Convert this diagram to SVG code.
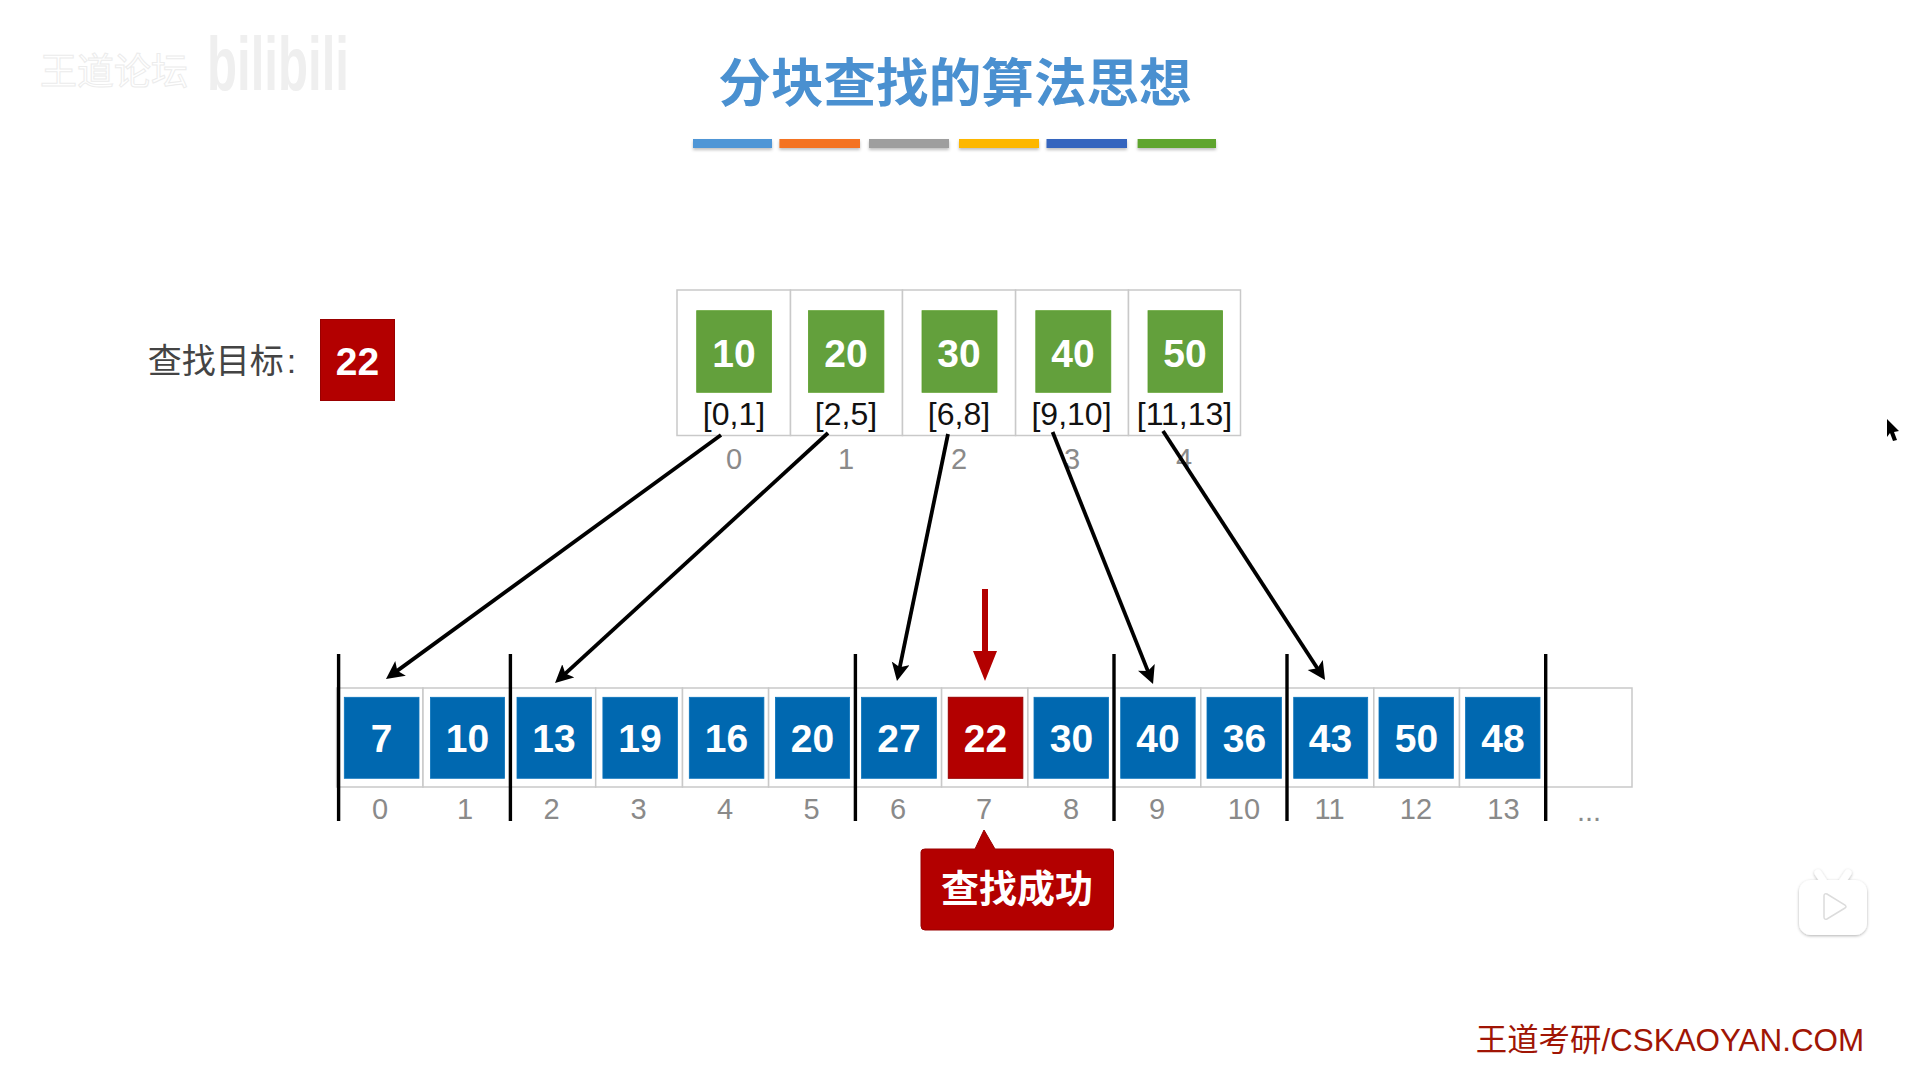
<svg xmlns="http://www.w3.org/2000/svg" width="1913" height="1069" viewBox="0 0 1913 1069">
<style>
text{font-family:"Liberation Sans","Noto Sans CJK SC",sans-serif;text-anchor:middle}
.cell{fill:#fff;stroke:#c9c9c9;stroke-width:1.5}
.g{fill:#63a03c;stroke:#5a9e28;stroke-width:.8}
.b{fill:#0068b0;stroke:#0a74bc;stroke-width:.8}
.r{fill:#b30000;stroke:#990000;stroke-width:1}
.n{fill:#fff;font-weight:700;font-size:39px}
.rg{fill:#111;font-size:32px}
.i{fill:#8a8a8a;font-size:29px}
.bar{stroke:#000;stroke-width:3.4}
.ar{stroke:#000;stroke-width:3.8;fill:none;marker-end:url(#ah)}
.stripe{filter:url(#sh)}
</style>
<defs>
<marker id="ah" markerUnits="userSpaceOnUse" markerWidth="20" markerHeight="20" refX="6" refY="9" orient="auto"><path d="M0,0L18,9L0,18L4,9Z" fill="#000"/></marker>
<marker id="rh" markerUnits="userSpaceOnUse" markerWidth="32" markerHeight="26" refX="4" refY="12" orient="auto"><path d="M0,0L30,12L0,24Z" fill="#b30000"/></marker>
<filter id="sh" x="-10%" y="-50%" width="120%" height="220%"><feDropShadow dx="0" dy="2" stdDeviation="1.5" flood-color="#000" flood-opacity=".25"/></filter>
<filter id="tv" x="-20%" y="-20%" width="140%" height="140%"><feDropShadow dx="0" dy="1" stdDeviation="1.5" flood-color="#000" flood-opacity=".3"/></filter>
</defs>
<rect width="1913" height="1069" fill="#fff"/>

<g id="watermark">
<text x="114" y="85" font-size="37" style="fill:#fff;stroke:#ececec;stroke-width:1">王道论坛</text>
<text x="278" y="90" font-size="76" font-weight="700" textLength="142" lengthAdjust="spacingAndGlyphs" style="fill:#efefef">bilibili</text>
</g>

<g id="title">
<text x="955" y="102" font-size="52.6" font-weight="700" style="fill:#4a90d0">分块查找的算法思想</text>
<rect class="stripe" x="693" y="139" width="79" height="9" fill="#4f96d6"/>
<rect class="stripe" x="779.4" y="139" width="80.6" height="9" fill="#f47320"/>
<rect class="stripe" x="869" y="139" width="80" height="9" fill="#9e9e9e"/>
<rect class="stripe" x="959" y="139" width="80" height="9" fill="#fdb700"/>
<rect class="stripe" x="1046.5" y="139" width="80.5" height="9" fill="#3465be"/>
<rect class="stripe" x="1137.6" y="139" width="78.4" height="9" fill="#5fa52f"/>
</g>

<g id="target">
<text x="222" y="373" font-size="34" style="fill:#444">查找目标<tspan dx="3">:</tspan></text>
<rect class="r" x="320.5" y="319.5" width="74" height="81"/>
<text class="n" x="357.5" y="375">22</text>
</g>

<g id="index-table">
<g id="idx0"><rect class="cell" x="677" y="290" width="113.5" height="145.5"/><rect class="g" x="696.7" y="310.7" width="74.7" height="81.6"/><text class="n" x="734" y="367">10</text><text class="rg" x="734" y="425">[0,1]</text><text class="i" x="734" y="469">0</text></g>
<g id="idx1"><rect class="cell" x="790.5" y="290" width="112" height="145.5"/><rect class="g" x="808.5" y="310.7" width="75.4" height="81.6"/><text class="n" x="846" y="367">20</text><text class="rg" x="846" y="425">[2,5]</text><text class="i" x="846" y="469">1</text></g>
<g id="idx2"><rect class="cell" x="902.5" y="290" width="113.1" height="145.5"/><rect class="g" x="922" y="310.7" width="75" height="81.6"/><text class="n" x="959" y="367">30</text><text class="rg" x="959" y="425">[6,8]</text><text class="i" x="959" y="469">2</text></g>
<g id="idx3"><rect class="cell" x="1015.6" y="290" width="112.9" height="145.5"/><rect class="g" x="1035.8" y="310.7" width="75" height="81.6"/><text class="n" x="1073" y="367">40</text><text class="rg" x="1071.5" y="425">[9,10]</text><text class="i" x="1072" y="469">3</text></g>
<g id="idx4"><rect class="cell" x="1128.5" y="290" width="112" height="145.5"/><rect class="g" x="1148" y="310.7" width="74.6" height="81.6"/><text class="n" x="1185" y="367">50</text><text class="rg" x="1184.5" y="425">[11,13]</text><text class="i" x="1184" y="469">4</text></g>
</g>

<g id="array">
<g id="a0"><rect class="cell" x="336.6" y="688" width="86.4" height="99"/><rect class="b" x="344.3" y="697.3" width="74.7" height="81"/><text class="n" x="381.5" y="752">7</text><text class="i" x="380" y="819">0</text></g>
<g id="a1"><rect class="cell" x="423" y="688" width="87" height="99"/><rect class="b" x="430.4" y="697.3" width="74.2" height="81"/><text class="n" x="467.5" y="752">10</text><text class="i" x="465" y="819">1</text></g>
<g id="a2"><rect class="cell" x="510" y="688" width="85.7" height="99"/><rect class="b" x="517" y="697.3" width="74.4" height="81"/><text class="n" x="554" y="752">13</text><text class="i" x="551.5" y="819">2</text></g>
<g id="a3"><rect class="cell" x="595.7" y="688" width="86.8" height="99"/><rect class="b" x="602.9" y="697.3" width="74.6" height="81"/><text class="n" x="640" y="752">19</text><text class="i" x="638.5" y="819">3</text></g>
<g id="a4"><rect class="cell" x="682.5" y="688" width="86.1" height="99"/><rect class="b" x="689.3" y="697.3" width="74.6" height="81"/><text class="n" x="726.5" y="752">16</text><text class="i" x="725" y="819">4</text></g>
<g id="a5"><rect class="cell" x="768.6" y="688" width="86.8" height="99"/><rect class="b" x="775.4" y="697.3" width="74.2" height="81"/><text class="n" x="812.5" y="752">20</text><text class="i" x="811.5" y="819">5</text></g>
<g id="a6"><rect class="cell" x="855.4" y="688" width="86.2" height="99"/><rect class="b" x="861.5" y="697.3" width="75" height="81"/><text class="n" x="899" y="752">27</text><text class="i" x="898" y="819">6</text></g>
<g id="a7"><rect class="cell" x="941.6" y="688" width="86.3" height="99"/><rect class="r" x="948.3" y="697.3" width="74.5" height="81"/><text class="n" x="985.5" y="752">22</text><text class="i" x="984" y="819">7</text></g>
<g id="a8"><rect class="cell" x="1027.9" y="688" width="86.1" height="99"/><rect class="b" x="1034" y="697.3" width="74.5" height="81"/><text class="n" x="1071.5" y="752">30</text><text class="i" x="1071" y="819">8</text></g>
<g id="a9"><rect class="cell" x="1114" y="688" width="86.8" height="99"/><rect class="b" x="1120.7" y="697.3" width="74.5" height="81"/><text class="n" x="1158" y="752">40</text><text class="i" x="1157" y="819">9</text></g>
<g id="a10"><rect class="cell" x="1200.8" y="688" width="86.2" height="99"/><rect class="b" x="1207" y="697.3" width="74.4" height="81"/><text class="n" x="1244.5" y="752">36</text><text class="i" x="1244" y="819">10</text></g>
<g id="a11"><rect class="cell" x="1287" y="688" width="86.8" height="99"/><rect class="b" x="1293.7" y="697.3" width="74" height="81"/><text class="n" x="1330.5" y="752">43</text><text class="i" x="1329.5" y="819">11</text></g>
<g id="a12"><rect class="cell" x="1373.8" y="688" width="85.7" height="99"/><rect class="b" x="1379" y="697.3" width="74.4" height="81"/><text class="n" x="1416.5" y="752">50</text><text class="i" x="1416" y="819">12</text></g>
<g id="a13"><rect class="cell" x="1459.5" y="688" width="86.2" height="99"/><rect class="b" x="1465.6" y="697.3" width="74.4" height="81"/><text class="n" x="1503" y="752">48</text><text class="i" x="1503.5" y="819">13</text></g>
<g id="a14"><rect class="cell" x="1545.7" y="688" width="86.3" height="99"/><text class="i" x="1589" y="821">...</text></g>
</g>

<g id="connectors">
<line class="bar" x1="338.6" y1="654" x2="338.6" y2="821"/>
<line class="bar" x1="510.4" y1="654" x2="510.4" y2="821"/>
<line class="bar" x1="855.4" y1="654" x2="855.4" y2="821"/>
<line class="bar" x1="1114" y1="654" x2="1114" y2="821"/>
<line class="bar" x1="1287" y1="654" x2="1287" y2="821"/>
<line class="bar" x1="1545.7" y1="654" x2="1545.7" y2="821"/>
<line class="ar" x1="721" y1="435" x2="395.7" y2="671.9"/>
<line class="ar" x1="828" y1="433" x2="563.9" y2="674.9"/>
<line class="ar" x1="948" y1="434" x2="899.4" y2="669.2"/>
<line class="ar" x1="1052.6" y1="432" x2="1148.6" y2="672.9"/>
<line class="ar" x1="1163" y1="431" x2="1318.5" y2="670"/>
<line x1="985" y1="589" x2="985" y2="655" stroke="#b30000" stroke-width="6" marker-end="url(#rh)"/>
</g>

<g id="callout">
<path d="M925,849H975L984,830L995,849H1110Q1113.5,849 1113.5,852V926Q1113.5,930 1110,930H925Q921,930 921,926V852Q921,849 925,849Z" fill="#b30000" stroke="#990000" stroke-width="1"/>
<text x="1017" y="902" font-size="38" font-weight="700" style="fill:#fff">查找成功</text>
</g>

<g id="footer">
<text x="1670" y="1051" font-size="31.4" style="fill:#a01505">王道考研/CSKAOYAN.COM</text>
</g>

<g id="cursor"><path d="M1887,419L1899,431L1894,432L1897,440L1893,441L1890,433L1887,437Z" fill="#000"/></g>

<g id="player-icon">
<g filter="url(#tv)" fill="#fff">
<path d="M1818,873L1824,882M1848,873L1842,882" stroke="#fff" stroke-width="7" stroke-linecap="round"/>
<rect x="1799" y="880" width="68" height="55" rx="12"/>
</g>
<path d="M1824,896Q1824,893 1827,894L1845,905Q1847,907 1845,908L1827,919Q1824,920 1824,917Z" fill="#fff" stroke="#dcdcdc" stroke-width="1.5"/>
</g>
</svg>
